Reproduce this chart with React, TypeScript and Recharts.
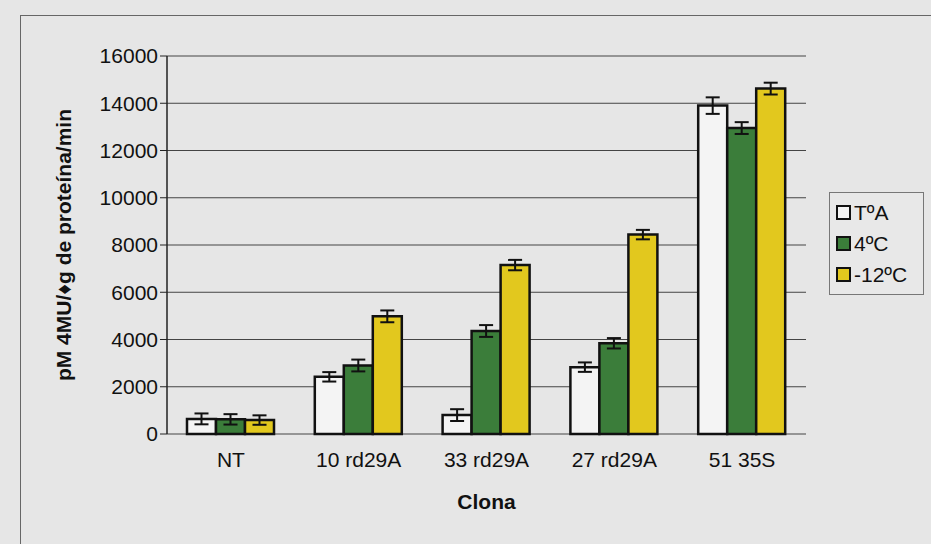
import React from 'react';
import { BarChart, Bar, XAxis, YAxis, CartesianGrid, Legend, ErrorBar } from 'recharts';

const clones = ['NT', '10 rd29A', '33 rd29A', '27 rd29A', '51 35S'];
const tempA = [640, 2420, 800, 2830, 13900];
const tempAErr = [230, 200, 250, 200, 350];
const cold4 = [620, 2900, 4360, 3840, 12950];
const cold4Err = [220, 250, 250, 220, 250];
const cold12 = [590, 4980, 7150, 8440, 14620];
const cold12Err = [200, 250, 220, 200, 250];
const yTicks = [0, 2000, 4000, 6000, 8000, 10000, 12000, 14000, 16000];

const series = [
  { key: 'ta', name: 'TºA', color: '#f4f4f4' },
  { key: 'c4', name: '4ºC', color: '#3b7d3a' },
  { key: 'c12', name: '-12ºC', color: '#e2c81e' },
];

const data = clones.map((c, i) => ({
  name: c,
  idx: i,
  ta: tempA[i], taErr: tempAErr[i],
  c4: cold4[i], c4Err: cold4Err[i],
  c12: cold12[i], c12Err: cold12Err[i],
}));

const font = '"Liberation Sans", Arial, sans-serif';

const LegendBox = () => (
  <div style={{ border: '1px solid #777', background: '#e8e8e8', padding: '4px 6px', width: 81, fontFamily: font }}>
    {series.map(s => (
      <div key={s.key} style={{ display: 'flex', alignItems: 'center', height: 31, fontSize: 21, color: '#111' }}>
        <span style={{ display: 'inline-block', width: 11, height: 11, border: '2px solid #111', background: s.color, marginRight: 3 }} />
        {s.name}
      </div>
    ))}
  </div>
);

const App: React.FC = () => {
  return (
    <div style={{ position: 'absolute', left: 0, top: 0, width: 931, height: 544, background: '#e6e6e6', overflow: 'hidden', fontFamily: font }}>
      <div style={{ position: 'absolute', left: 20, top: 15, width: 940, height: 560, border: '1px solid #666' }} />
      <div style={{ position: 'absolute', left: 0, top: 0 }}>
        <BarChart width={931} height={544} data={data} margin={{ top: 56, right: 125, left: 0, bottom: 0 }} barGap={0} barSize={29}>
          <CartesianGrid vertical={false} stroke="#444" strokeWidth={1} />
          <XAxis xAxisId="frame" type="number" dataKey="idx" domain={[-0.5, 4.5]} ticks={[-0.5, 0.5, 1.5, 2.5, 3.5, 4.5]} height={0}
            axisLine={{ stroke: '#222', strokeWidth: 1.5 }} tickLine={{ stroke: '#222', strokeWidth: 1.5 }} tickSize={7} tick={false} allowDataOverflow />
          <XAxis dataKey="name" height={110} axisLine={false} tickLine={false}
            tick={{ fill: '#111', fontSize: 21, fontFamily: font }} tickMargin={12}
            label={{ value: 'Clona', position: 'insideTop', offset: 60, fill: '#111', fontSize: 21, fontWeight: 'bold', fontFamily: font }} />
          <YAxis width={167} domain={[0, 16000]} ticks={yTicks} interval={0}
            axisLine={{ stroke: '#222', strokeWidth: 1.5 }} tickLine={{ stroke: '#222' }} tickSize={7}
            tick={{ fill: '#111', fontSize: 21, fontFamily: font }}
            label={{ value: 'pM 4MU/♦g de proteína/min', angle: -90, position: 'insideLeft', offset: 64, fill: '#111', fontSize: 21, fontWeight: 'bold', fontFamily: font, style: { textAnchor: 'middle' } }} />
          <YAxis yAxisId="frame" orientation="right" width={0} domain={[0, 16000]} tick={false} tickLine={false}
            axisLine={{ stroke: '#777', strokeWidth: 1.5 }} />
          <Legend content={<LegendBox />} verticalAlign="top" height={0}
            wrapperStyle={{ position: 'absolute', left: 829, top: 192, width: 95, height: 0 }} />
          {series.map(s => (
            <Bar key={s.key} dataKey={s.key} name={s.name} fill={s.color} stroke="#111" strokeWidth={2.5} isAnimationActive={false}>
              <ErrorBar dataKey={`${s.key}Err`} width={7} stroke="#111" strokeWidth={2} direction="y" />
            </Bar>
          ))}
        </BarChart>
      </div>
    </div>
  );
};

export default App;
